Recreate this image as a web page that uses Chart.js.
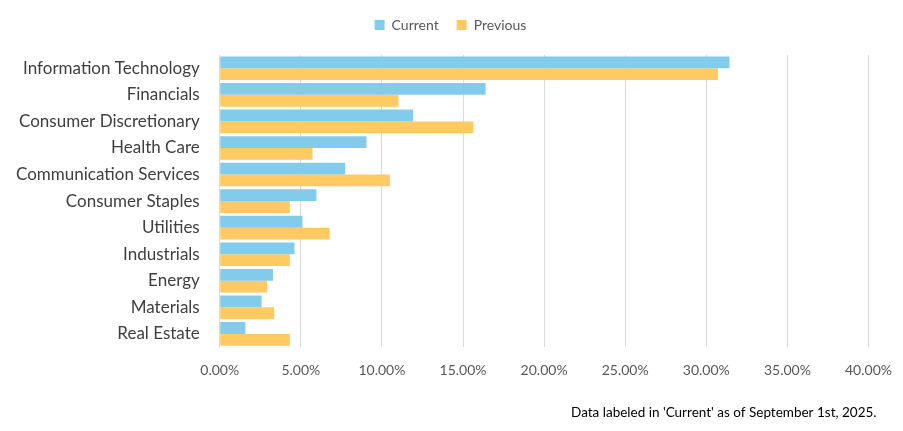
<!DOCTYPE html>
<html>
<head>
<meta charset="utf-8">
<script src="https://cdn.jsdelivr.net/npm/chart.js@4"></script>
<style>
  html, body { margin: 0; padding: 0; background: #fff; }
  #wrap { width: 903px; height: 431px; }
</style>
</head>
<body>
<div id="wrap"><canvas id="sector_chart" width="903" height="431"></canvas></div>
<script>
// sector weights, in percent
const sectors = [
    'Information Technology', 'Financials', 'Consumer Discretionary', 'Health Care',
    'Communication Services', 'Consumer Staples', 'Utilities', 'Industrials',
    'Energy', 'Materials', 'Real Estate'
];
const currentWeights = [31.43, 16.39, 11.92, 9.05, 7.73, 5.96, 5.10, 4.61, 3.28, 2.58, 1.58];
const previousWeights = [30.71, 11.02, 15.64, 5.72, 10.49, 4.32, 6.78, 4.32, 2.93, 3.36, 4.32];
const xMin = 0;
const xMax = 40;
const xStep = 5;
const footnote = "Data labeled in 'Current' as of September 1st, 2025.";

const fontFamily = 'Lato, "Open Sans", sans-serif';

// footnote under the chart, right side
const footnotePlugin = {
    id: 'footnote',
    afterDraw(chart) {
        const c = chart.ctx;
        c.save();
        c.font = '13.5px ' + fontFamily;
        c.fillStyle = '#000';
        c.textAlign = 'right';
        c.textBaseline = 'middle';
        c.fillText(footnote, chart.chartArea.right + 8, 413);
        c.restore();
    }
};

const data = {
    labels: sectors,
    datasets: [
        {
            label: 'Current',
            data: currentWeights,
            backgroundColor: '#83CBEB',
            borderWidth: 0
        },
        {
            label: 'Previous',
            data: previousWeights,
            backgroundColor: '#FFCA62',
            borderWidth: 0
        }
    ]
};

const config = {
    type: 'bar',
    data: data,
    options: {
        indexAxis: 'y',
        responsive: false,
        animation: false,
        categoryPercentage: 0.89,
        barPercentage: 1.0,
        layout: {
            padding: { left: 4, right: 6, top: 0, bottom: 41 }
        },
        scales: {
            x: {
                min: xMin,
                max: xMax,
                ticks: {
                    stepSize: xStep,
                    color: '#595959',
                    font: { family: fontFamily, size: 14 },
                    padding: 11,
                    callback: value => value.toFixed(2) + '%'
                },
                grid: {
                    color: '#d9d9d9',
                    lineWidth: 1,
                    drawTicks: true,
                    tickLength: 4,
                    tickColor: 'rgba(0,0,0,0)'
                },
                border: { display: false }
            },
            y: {
                ticks: {
                    color: '#404040',
                    font: { family: fontFamily, size: 17 },
                    padding: 12
                },
                grid: { display: false },
                border: { display: true, color: '#d9d9d9' }
            }
        },
        plugins: {
            legend: {
                position: 'top',
                labels: {
                    boxWidth: 10,
                    boxHeight: 10,
                    color: '#595959',
                    font: { family: fontFamily, size: 14 },
                    padding: 18
                }
            },
            // empty spacer between legend and plot
            subtitle: {
                display: true,
                text: ' ',
                position: 'top',
                weight: 500,
                font: { size: 5, lineHeight: 1.2 },
                padding: { top: 0, bottom: 7 }
            },
            tooltip: { enabled: false }
        }
    },
    plugins: [footnotePlugin]
};

const ctx = document.getElementById('sector_chart').getContext('2d');
new Chart(ctx, config);
</script>
</body>
</html>
